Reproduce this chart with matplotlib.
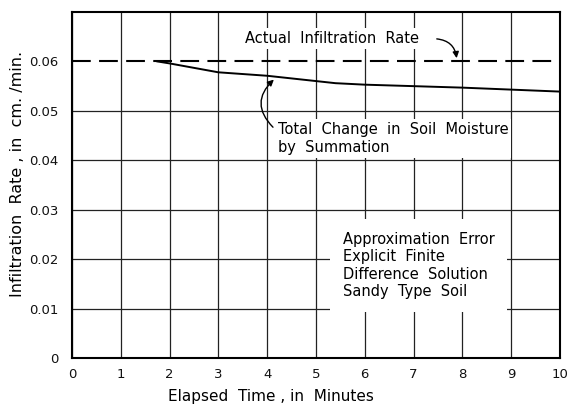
import numpy as np
import matplotlib
matplotlib.use("Agg")
import matplotlib.pyplot as plt

# elapsed time (min) and computed infiltration rate (cm/min), summation method
time_min = [1.75, 2, 3, 4, 5.4, 6, 7, 8, 9, 10]
rate_summation = [0.06, 0.0596, 0.0578, 0.0571, 0.0556, 0.0553, 0.055, 0.0547, 0.0543, 0.0539]

actual_time = [0, 10]
actual_rate = [0.06, 0.06]

x_ticks = list(range(0, 11))
y_ticks = [0, 0.01, 0.02, 0.03, 0.04, 0.05, 0.06]
y_labels = ["0", "0.01", "0.02", "0.03", "0.04", "0.05", "0.06"]

plt.rcParams["font.family"] = "DejaVu Sans"

fig = plt.figure(figsize=(5.69, 4.07), dpi=100)
ax = fig.add_axes([0.1265, 0.1204, 0.8575, 0.8501])

ax.plot(actual_time, actual_rate, color="black", lw=1.5, dashes=(9, 4), zorder=2)
ax.plot(time_min, rate_summation, color="black", lw=1.4, zorder=2)

ax.set_xlim(0, 10)
ax.set_ylim(0, 0.07)
ax.set_xticks(x_ticks)
ax.set_yticks(y_ticks)
ax.set_yticklabels(y_labels)
ax.tick_params(length=0, labelsize=9.5, colors="#111")
ax.tick_params(axis="x", pad=7)
ax.tick_params(axis="y", pad=10)
ax.grid(True, color="#222", lw=0.9)
ax.set_axisbelow(True)
# the dashed rate line stands in for the 0.06 grid line
ax.yaxis.get_gridlines()[-1].set_visible(False)
for sp in ax.spines.values():
    sp.set_linewidth(1.5)

box = dict(facecolor="white", edgecolor="none", pad=2)

ax.text(3.55, 0.0646, "Actual  Infiltration  Rate", fontsize=10.5, va="center", ha="left", bbox=box)
ax.annotate("", xy=(7.89, 0.0601), xytext=(7.42, 0.0646),
            arrowprops=dict(arrowstyle="-|>", color="black", lw=1,
                            mutation_scale=9, connectionstyle="arc3,rad=-0.45"))

ax.text(4.22, 0.0444, "Total  Change  in  Soil  Moisture\nby  Summation", fontsize=10.5,
        va="center", ha="left", linespacing=1.3, bbox=box)
tip_x = 4.18
ax.annotate("", xy=(tip_x, np.interp(tip_x, time_min, rate_summation) - 0.0002),
            xytext=(4.16, 0.0463),
            arrowprops=dict(arrowstyle="-|>", color="black", lw=1,
                            mutation_scale=9, connectionstyle="arc3,rad=-0.55"))

ax.text(5.55, 0.0187,
        "Approximation  Error\nExplicit  Finite\nDifference  Solution\nSandy  Type  Soil",
        fontsize=10.5, va="center", ha="left", linespacing=1.2,
        bbox=dict(facecolor="white", edgecolor="none", pad=9))

fig.text(271 / 569, 1 - 397 / 407, "Elapsed  Time , in  Minutes", fontsize=11,
         ha="center", va="center")
fig.text(18 / 569, 1 - 174 / 407, "Infiltration  Rate , in  cm. /min.", fontsize=11.5,
         ha="center", va="center", rotation=90)

fig.savefig("out.png", dpi=100)
